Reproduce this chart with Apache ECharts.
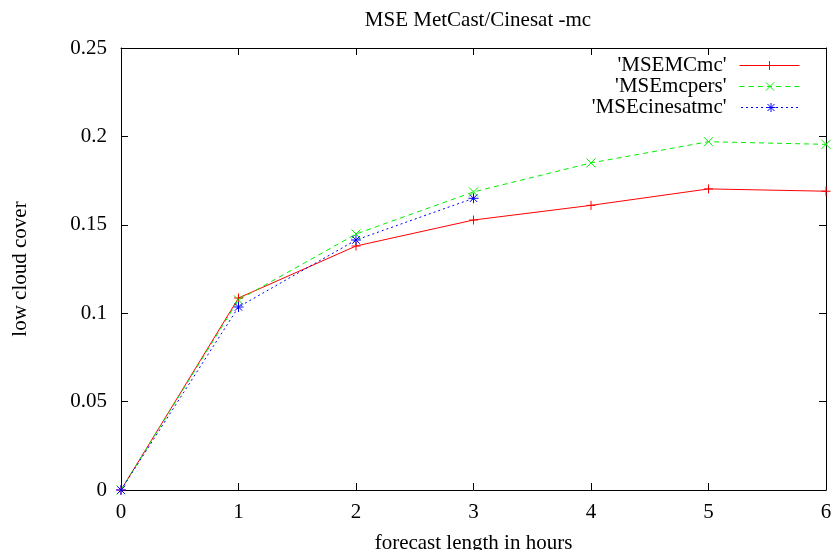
<!DOCTYPE html>
<html>
<head>
<meta charset="utf-8">
<script src="https://cdn.jsdelivr.net/npm/echarts@6/dist/echarts.min.js"></script>
<style>html,body{margin:0;padding:0;background:#fff;}#c{width:835px;height:550px;}</style>
</head>
<body>
<div id="c"></div>
<script>
const hours = [0, 1, 2, 3, 4, 5, 6];
const mseEMCmc = [0, 0.1086, 0.138, 0.1527, 0.161, 0.1703, 0.169];
const mseMcpers = [0, 0.1075, 0.1448, 0.1686, 0.185, 0.197, 0.1955];
const mseCinesatmc = [0, 0.1035, 0.1414, 0.165];
const seriesNames = ["'MSEMCmc'", "'MSEmcpers'", "'MSEcinesatmc'"];

const FONT = "'Liberation Serif', 'DejaVu Serif', 'Times New Roman', serif";
const plus = 'path://M0,-1L0,1M-1,0L1,0';
const cross = 'path://M-1,-1L1,1M-1,1L1,-1';
const star = 'path://M0,-1L0,1M-1,0L1,0M-0.75,-0.75L0.75,0.75M-0.75,0.75L0.75,-0.75';
const colors = ['#ff0000', '#00ee00', '#0000ff'];
const dashes = ['solid', [5, 4], [2, 3]];
const symbols = [plus, cross, star];

// legend icon: a stroked line (optionally dashed) with the series marker in the middle
const W = 60, H = 9;
function linePath(dash) {
  if (dash === 'solid') return 'M0,4.5L' + W + ',4.5';
  let p = '', x = 0, on = dash[0], off = dash[1];
  while (x < W) { p += 'M' + x + ',4.5L' + Math.min(W, x + on) + ',4.5'; x += on + off; }
  return p;
}
const markPaths = [
  'M30,0L30,9M25.5,4.5L34.5,4.5',
  'M26,0.5L34,8.5M26,8.5L34,0.5',
  'M30,0L30,9M25.5,4.5L34.5,4.5M26.5,1L33.5,8M26.5,8L33.5,1'
];
function legendIcon(i) { return 'path://' + linePath(dashes[i]) + markPaths[i]; }

function pairs(ys) { return ys.map((y, i) => [hours[i], y]); }

const axisLine = { show: true, onZero: false, lineStyle: { color: '#000', width: 1 } };
const tick = { show: true, inside: true, length: 7, lineStyle: { color: '#000', width: 1 } };
const label = { color: '#000', fontFamily: FONT, fontSize: 21 };

function mkSeries(i, ys) {
  return {
    name: seriesNames[i], type: 'line', data: pairs(ys),
    symbol: symbols[i], symbolSize: i === 2 ? 10 : 9,
    lineStyle: { color: colors[i], width: 1, type: dashes[i] },
    itemStyle: { color: colors[i], borderColor: colors[i], borderWidth: 1 }
  };
}

const chart = echarts.init(document.getElementById('c'), null, { renderer: 'canvas' });
chart.setOption({
  animation: false,
  backgroundColor: '#fff',
  title: {
    text: 'MSE MetCast/Cinesat -mc',
    left: 473, top: 5, textAlign: 'center',
    textStyle: { fontFamily: FONT, fontSize: 21, fontWeight: 'normal', color: '#000' }
  },
  grid: { left: 121, right: 9, top: 48, bottom: 60, containLabel: false, outerBoundsMode: 'none' },
  legend: {
    orient: 'vertical', right: 30, top: 50, align: 'right',
    itemWidth: W, itemHeight: H, itemGap: 0,
    textStyle: { fontFamily: FONT, fontSize: 21, lineHeight: 20, color: '#000', padding: [0, 8, 0, 0] },
    data: seriesNames.map((n, i) => ({
      name: n,
      icon: legendIcon(i),
      itemStyle: { color: 'rgba(0,0,0,0)', borderColor: colors[i], borderWidth: 1 }
    }))
  },
  xAxis: [{
    type: 'value', min: 0, max: 6, interval: 1,
    name: 'forecast length in hours', nameLocation: 'middle', nameGap: 43,
    nameTextStyle: { fontFamily: FONT, fontSize: 21, color: '#000' },
    axisLine, axisTick: tick, axisLabel: Object.assign({ margin: 12 }, label),
    splitLine: { show: false }
  }, {
    type: 'value', position: 'top', min: 0, max: 6, interval: 1,
    axisLine, axisTick: tick, axisLabel: { show: false }, splitLine: { show: false }
  }],
  yAxis: [{
    type: 'value', min: 0, max: 0.25, interval: 0.05,
    name: 'low cloud cover', nameLocation: 'middle', nameGap: 90, nameRotate: 90,
    nameTextStyle: { fontFamily: FONT, fontSize: 21, color: '#000' },
    axisLine, axisTick: tick,
    axisLabel: Object.assign({ margin: 14, formatter: v => String(+v.toFixed(2)) }, label),
    splitLine: { show: false }
  }, {
    type: 'value', position: 'right', min: 0, max: 0.25, interval: 0.05,
    axisLine, axisTick: tick, axisLabel: { show: false }, splitLine: { show: false }
  }],
  series: [mkSeries(0, mseEMCmc), mkSeries(1, mseMcpers), mkSeries(2, mseCinesatmc)]
});
</script>
</body>
</html>
